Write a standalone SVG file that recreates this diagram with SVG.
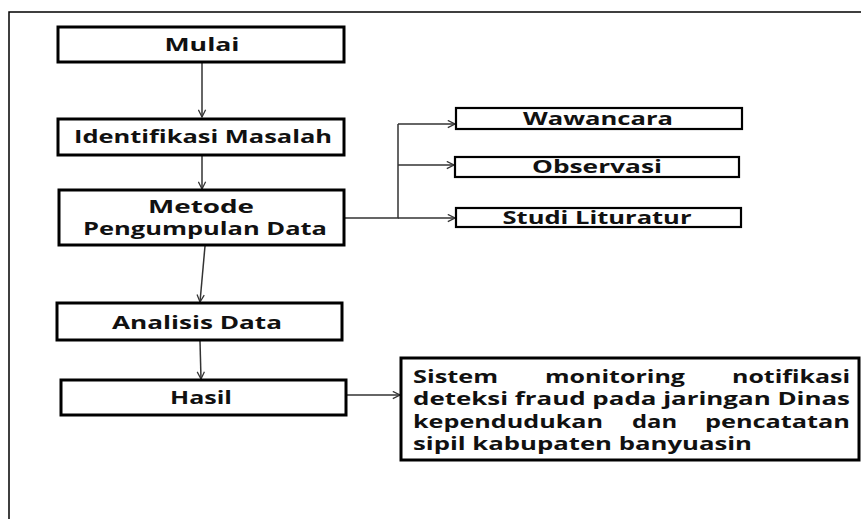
<svg xmlns="http://www.w3.org/2000/svg" width="861" height="519" viewBox="0 0 861 519">
  <style>
    .frame { fill: none; stroke: #000; stroke-width: 1.5; }
    .box { fill: #fff; stroke: #000; stroke-width: 3; }
    .box-thin { fill: #fff; stroke: #000; stroke-width: 2.2; }
    .label { font-family: "Open Sans", "Liberation Sans", sans-serif; font-weight: 700; font-size: 18px; fill: #111; text-anchor: middle; }
    .para { font-family: "Open Sans", "Liberation Sans", sans-serif; font-weight: 700; font-size: 18px; fill: #111; }
    .conn { fill: none; stroke: #333; stroke-width: 1.5; }
  </style>
  <defs>
    <marker id="arrow" viewBox="0 0 10 10" refX="9" refY="5" markerWidth="9" markerHeight="9" markerUnits="userSpaceOnUse" orient="auto">
      <path d="M1,1 L9,5 L1,9" fill="none" stroke="#333" stroke-width="1.4"/>
    </marker>
  </defs>

  <rect width="861" height="519" fill="#fff"/>
  <!-- outer frame, running past the right and bottom edges -->
  <rect class="frame" x="9" y="12" width="880" height="530"/>

  <g id="connectors">
    <line class="conn" x1="202" y1="62" x2="202" y2="117" marker-end="url(#arrow)"/>
    <line class="conn" x1="202" y1="156" x2="202" y2="189" marker-end="url(#arrow)"/>
    <line class="conn" x1="205" y1="246" x2="200" y2="302" marker-end="url(#arrow)"/>
    <line class="conn" x1="200" y1="341" x2="201" y2="379" marker-end="url(#arrow)"/>
    <path class="conn" d="M345,218 H398 V124"/>
    <line class="conn" x1="398" y1="124" x2="455" y2="124" marker-end="url(#arrow)"/>
    <line class="conn" x1="398" y1="165" x2="454" y2="165" marker-end="url(#arrow)"/>
    <line class="conn" x1="398" y1="218" x2="455" y2="218" marker-end="url(#arrow)"/>
    <line class="conn" x1="347" y1="395" x2="400" y2="395" marker-end="url(#arrow)"/>
  </g>

  <g id="mulai">
    <rect class="box" x="58" y="27" width="286" height="35"/>
    <text class="label" x="202" y="51" textLength="75" lengthAdjust="spacingAndGlyphs">Mulai</text>
  </g>

  <g id="identifikasi-masalah">
    <rect class="box" x="58" y="119" width="286" height="36"/>
    <text class="label" x="203" y="143" textLength="258" lengthAdjust="spacingAndGlyphs">Identifikasi Masalah</text>
  </g>

  <g id="metode-pengumpulan-data">
    <rect class="box" x="59" y="190" width="285" height="55"/>
    <text class="label" x="201" y="213" textLength="106" lengthAdjust="spacingAndGlyphs">Metode</text>
    <text class="label" x="205" y="235" textLength="244" lengthAdjust="spacingAndGlyphs">Pengumpulan Data</text>
  </g>

  <g id="wawancara">
    <rect class="box-thin" x="456" y="108" width="286" height="21"/>
    <text class="label" x="598" y="125" textLength="150" lengthAdjust="spacingAndGlyphs">Wawancara</text>
  </g>

  <g id="observasi">
    <rect class="box-thin" x="455" y="157" width="284" height="20"/>
    <text class="label" x="597" y="173" textLength="130" lengthAdjust="spacingAndGlyphs">Observasi</text>
  </g>

  <g id="studi-lituratur">
    <rect class="box-thin" x="456" y="208" width="285" height="19"/>
    <text class="label" x="597" y="224" textLength="189" lengthAdjust="spacingAndGlyphs">Studi Lituratur</text>
  </g>

  <g id="analisis-data">
    <rect class="box" x="57" y="303" width="285" height="37"/>
    <text class="label" x="197" y="329" textLength="170" lengthAdjust="spacingAndGlyphs">Analisis Data</text>
  </g>

  <g id="hasil">
    <rect class="box" x="61" y="380" width="285" height="35"/>
    <text class="label" x="201" y="404" textLength="62" lengthAdjust="spacingAndGlyphs">Hasil</text>
  </g>

  <g id="sistem-monitoring">
    <rect class="box" x="401" y="358" width="458" height="102"/>
    <text class="para" x="413" y="383" textLength="85" lengthAdjust="spacingAndGlyphs">Sistem</text>
    <text class="para" x="545" y="383" textLength="140" lengthAdjust="spacingAndGlyphs">monitoring</text>
    <text class="para" x="732" y="383" textLength="118" lengthAdjust="spacingAndGlyphs">notifikasi</text>
    <text class="para" x="413" y="405" textLength="437" lengthAdjust="spacingAndGlyphs">deteksi fraud pada jaringan Dinas</text>
    <text class="para" x="413" y="428" textLength="190" lengthAdjust="spacingAndGlyphs">kependudukan</text>
    <text class="para" x="632" y="428" textLength="45" lengthAdjust="spacingAndGlyphs">dan</text>
    <text class="para" x="705" y="428" textLength="145" lengthAdjust="spacingAndGlyphs">pencatatan</text>
    <text class="para" x="413" y="450" textLength="339" lengthAdjust="spacingAndGlyphs">sipil kabupaten banyuasin</text>
  </g>
</svg>
